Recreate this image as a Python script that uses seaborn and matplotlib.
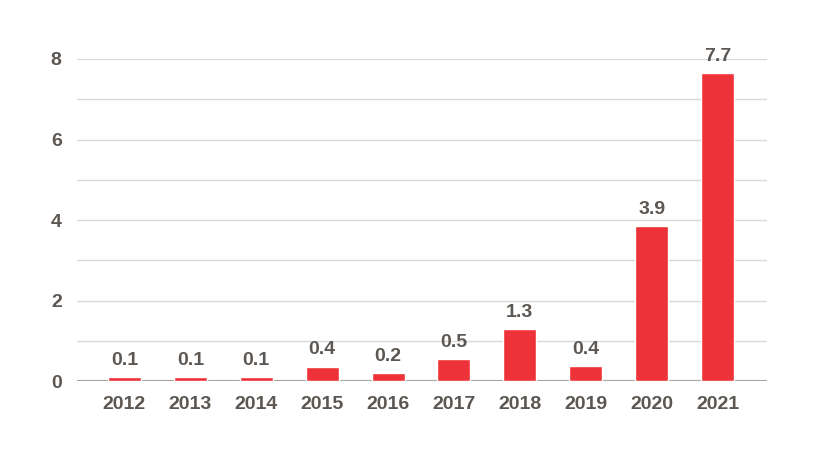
import matplotlib.pyplot as plt
import seaborn as sns
import pandas as pd

years = ['2012', '2013', '2014', '2015', '2016', '2017', '2018', '2019', '2020', '2021']
values = [0.1, 0.1, 0.09, 0.36, 0.21, 0.54, 1.29, 0.37, 3.86, 7.64]
labels = ['0.1', '0.1', '0.1', '0.4', '0.2', '0.5', '1.3', '0.4', '3.9', '7.7']
y_ticks = [0, 2, 4, 6, 8]

BAR = '#ee3239'
TEXT = '#5c5752'

sns.set_style('white')
plt.rcParams['font.family'] = ['Liberation Sans', 'DejaVu Sans']

df = pd.DataFrame({'Year': years, 'Value': values})

fig = plt.figure(figsize=(8.19, 4.62), dpi=100)
ax = fig.add_axes([0.094, 0.1753, 0.8425, 0.697])

# grid lines at every unit, drawn under the bars
for v in range(1, 9):
    ax.axhline(v, color='#d9d9d9', lw=1, zorder=0)
ax.axhline(0, color='#a8a29d', lw=1.5, zorder=1)

sns.barplot(x='Year', y='Value', data=df, color=BAR, width=0.5,
            saturation=1, ax=ax, zorder=2)

for i, (v, t) in enumerate(zip(values, labels)):
    ax.text(i, v + 0.2, t, ha='center', va='bottom', fontsize=14,
            fontweight='bold', color=TEXT)

ax.set_xlim(-0.72, 9.75)
ax.set_ylim(0, 8)
ax.set_yticks(y_ticks)
ax.set_yticklabels([str(t) for t in y_ticks])
ax.set_xlabel('')
ax.set_ylabel('')
ax.tick_params(axis='both', length=0, labelsize=14, labelcolor=TEXT)
ax.tick_params(axis='y', pad=11)
ax.tick_params(axis='x', pad=11)
for lbl in ax.get_xticklabels() + ax.get_yticklabels():
    lbl.set_fontweight('bold')
sns.despine(ax=ax, left=True, bottom=True)

fig.savefig('out.png', dpi=100)
